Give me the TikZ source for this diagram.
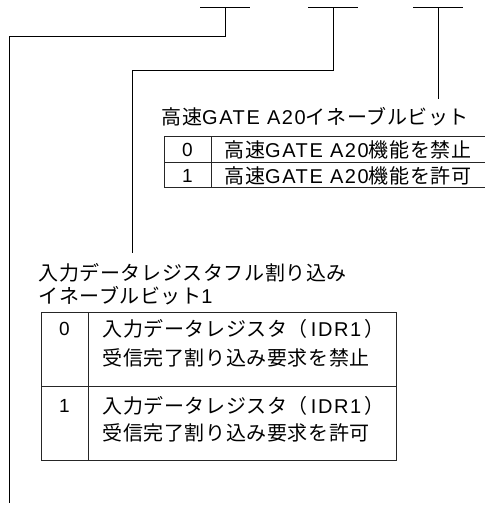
\documentclass[tikz,border=0pt]{standalone}
\usepackage{fontspec}
\setmainfont{Noto Sans CJK JP}[LetterSpace=3]
\newfontfamily\lat{Liberation Sans}[LetterSpace=8]
\begin{document}
\begin{tikzpicture}[x=1pt,y=-1pt,line width=1pt,
  txt/.style={anchor=base west,inner sep=0pt,font=\fontsize{20}{20}\selectfont},
  num/.style={anchor=base,inner sep=0pt,font=\lat\fontsize{19}{19}\selectfont},
  grid/.style={line width=1pt,draw=black!85}]
\useasboundingbox (0,0) rectangle (485,507);
\clip (0,0) rectangle (485,507);
% bit markers
\coordinate (b1l) at (200,7); \coordinate (b1r) at (250,7); \coordinate (b1m) at (225,7);
\coordinate (b2l) at (308,7); \coordinate (b2r) at (358,7); \coordinate (b2m) at (333,7);
\coordinate (b3l) at (413,7); \coordinate (b3r) at (463,7); \coordinate (b3m) at (438,7);
\draw (b1l) -- (b1r);
\draw (b2l) -- (b2r);
\draw (b3l) -- (b3r);
\coordinate (c1) at (225,36); \coordinate (c1b) at (9,36); \coordinate (e1) at (9,503);
\coordinate (c2) at (333,70); \coordinate (c2b) at (132,70); \coordinate (e2) at (132,253);
\coordinate (e3) at (438,99);
\draw (b1m) -- (c1) -- (c1b) -- (e1);
\draw (b2m) -- (c2) -- (c2b) -- (e2);
\draw (b3m) -- (e3);
% label 1
\node[txt] (lab1) at (161,124) {高速{\lat GATE A20}イネーブルビット};
% table 1
\draw[grid] (164,136) rectangle (490,187);
\draw[grid] (164,162) -- (490,162);
\draw[grid] (211,136) -- (211,187);
\node[num] (t1n0) at (187.5,156) {0};
\node[num] (t1n1) at (187.5,182) {1};
\node[txt] (t1r0) at (224,157) {高速{\lat GATE A20}機能を禁止};
\node[txt] (t1r1) at (224,183) {高速{\lat GATE A20}機能を許可};
% label 2
\node[txt] (lab2a) at (38,280) {入力データレジスタフル割り込み};
\node[txt] (lab2b) at (38,303) {イネーブルビット{\lat 1}};
% table 2
\draw[grid] (41,312) rectangle (396,460);
\draw[grid] (41,386) -- (396,386);
\draw[grid] (88,312) -- (88,460);
\node[num] (t2n0) at (64.5,335) {0};
\node[num] (t2n1) at (64.5,412) {1};
\node[txt] (t2r0a) at (102,336) {入力データレジスタ（\hspace{3pt}{\lat IDR1}\hspace{3pt}）};
\node[txt] (t2r0b) at (102,365) {受信完了割り込み要求を禁止};
\node[txt] (t2r1a) at (102,413) {入力データレジスタ（\hspace{3pt}{\lat IDR1}\hspace{3pt}）};
\node[txt] (t2r1b) at (102,440) {受信完了割り込み要求を許可};
\end{tikzpicture}
\end{document}
